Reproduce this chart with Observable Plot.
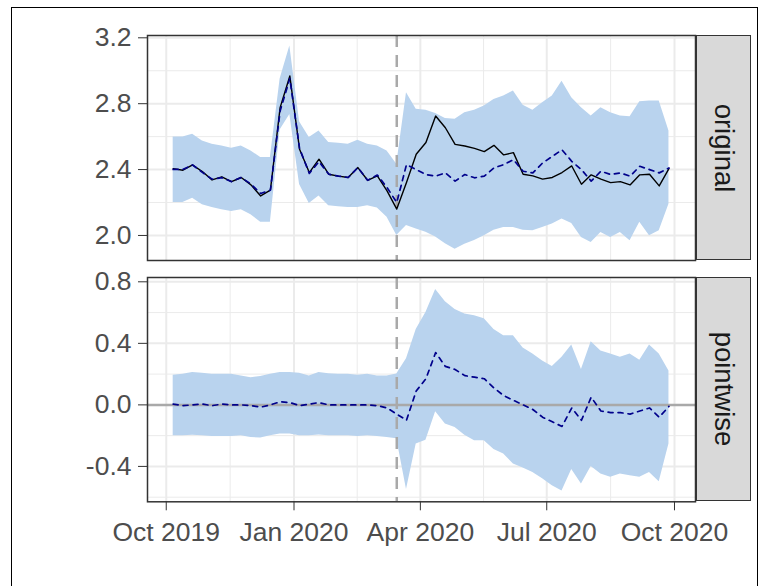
<!DOCTYPE html>
<html><head><meta charset="utf-8">
<script src="https://cdn.jsdelivr.net/npm/d3@7"></script>
<script src="https://cdn.jsdelivr.net/npm/@observablehq/plot@0.6"></script>
<style>
body{margin:0;background:#fff;}
#wrap{position:relative;width:765px;height:586px;overflow:hidden;background:#fff;font-family:"Liberation Sans",Arial,sans-serif;}
#border{position:absolute;left:11px;top:7px;width:747px;height:640px;border:1.5px solid #000;box-sizing:border-box;}
.plot{position:absolute;left:0;}
.strip{position:absolute;left:696px;width:55px;background:#d9d9d9;border:1.5px solid #333;box-sizing:border-box;}
.strip span{position:absolute;left:50%;top:50%;transform:translate(-50%,-50%) rotate(90deg);font-size:27.5px;color:#1a1a1a;white-space:nowrap;}
</style></head>
<body><div id="wrap"><div id="border"></div>
<div id="top" class="plot" style="top:0"></div>
<div id="bot" class="plot" style="top:270px"></div>
</div>
<script>
// ---- data ----
const dates = ["2019-10-06","2019-10-13","2019-10-20","2019-10-27","2019-11-03","2019-11-10","2019-11-17","2019-11-24",
"2019-12-01","2019-12-08","2019-12-15","2019-12-22","2019-12-29","2020-01-05","2020-01-12","2020-01-19","2020-01-26",
"2020-02-02","2020-02-09","2020-02-16","2020-02-23","2020-03-01","2020-03-08","2020-03-15","2020-03-22","2020-03-29",
"2020-04-05","2020-04-12","2020-04-19","2020-04-26","2020-05-03","2020-05-10","2020-05-17","2020-05-24","2020-05-31",
"2020-06-07","2020-06-14","2020-06-21","2020-06-28","2020-07-05","2020-07-12","2020-07-19","2020-07-26","2020-08-02",
"2020-08-09","2020-08-16","2020-08-23","2020-08-30","2020-09-06","2020-09-13","2020-09-20","2020-09-27"];
const actual = [2.406,2.396,2.428,2.388,2.337,2.356,2.327,2.352,2.307,2.24,2.275,2.776,2.968,2.523,2.382,2.463,2.372,2.36,
2.352,2.412,2.335,2.362,2.271,2.16,2.322,2.493,2.564,2.725,2.654,2.553,2.543,2.529,2.509,2.547,2.489,2.503,2.372,2.362,
2.342,2.352,2.382,2.422,2.311,2.368,2.342,2.321,2.327,2.307,2.368,2.372,2.301,2.406];
const predicted = [2.401,2.401,2.428,2.383,2.342,2.351,2.327,2.352,2.312,2.255,2.275,2.756,2.953,2.528,2.377,2.448,2.372,
2.36,2.352,2.412,2.335,2.367,2.291,2.20,2.43,2.40,2.37,2.36,2.38,2.33,2.37,2.35,2.36,2.41,2.43,2.46,2.39,2.38,2.44,2.48,
2.52,2.45,2.40,2.33,2.39,2.37,2.38,2.36,2.42,2.40,2.38,2.41];
const predUpper = [2.598,2.598,2.614,2.574,2.554,2.543,2.529,2.543,2.513,2.473,2.473,2.95,3.15,2.69,2.594,2.634,2.564,2.56,
2.554,2.578,2.554,2.543,2.513,2.432,2.867,2.766,2.76,2.74,2.71,2.705,2.745,2.76,2.786,2.826,2.846,2.877,2.79,2.76,2.806,
2.846,2.937,2.836,2.776,2.725,2.776,2.745,2.725,2.72,2.812,2.816,2.816,2.634];
const predLower = [2.2,2.2,2.226,2.186,2.17,2.156,2.145,2.156,2.125,2.08,2.08,2.64,2.735,2.31,2.194,2.24,2.18,2.175,2.17,
2.17,2.18,2.166,2.11,2.0,2.06,2.04,2.02,1.99,1.95,1.917,1.947,1.97,1.998,2.032,2.048,2.048,2.032,2.028,2.048,2.07,2.1,
2.073,1.988,1.958,2.018,1.988,2.018,1.968,2.08,1.998,2.028,2.19];
const pointwise = [0.005,-0.005,0,0.005,-0.005,0.005,0,0,-0.005,-0.015,0,0.02,0.015,-0.005,0.005,0.015,0,0,0,0,0,-0.005,
-0.02,-0.06,-0.10,0.09,0.17,0.34,0.25,0.23,0.19,0.18,0.17,0.11,0.06,0.03,0.00,-0.03,-0.08,-0.11,-0.14,-0.02,-0.10,0.05,
-0.04,-0.05,-0.05,-0.06,-0.04,-0.02,-0.08,-0.01];
const pointUpper = [0.192,0.199,0.21,0.205,0.199,0.199,0.199,0.188,0.177,0.184,0.199,0.21,0.21,0.205,0.188,0.21,0.203,
0.199,0.199,0.192,0.199,0.188,0.188,0.2,0.30,0.49,0.60,0.75,0.67,0.62,0.59,0.58,0.56,0.49,0.45,0.45,0.37,0.33,0.285,
0.25,0.31,0.39,0.23,0.41,0.35,0.33,0.31,0.33,0.29,0.39,0.33,0.22];
const pointLower = [-0.201,-0.201,-0.197,-0.201,-0.205,-0.205,-0.205,-0.201,-0.212,-0.216,-0.201,-0.19,-0.19,-0.201,
-0.201,-0.195,-0.201,-0.201,-0.201,-0.205,-0.201,-0.205,-0.212,-0.22,-0.55,-0.255,-0.23,-0.045,-0.125,-0.147,-0.197,
-0.233,-0.233,-0.29,-0.32,-0.385,-0.41,-0.44,-0.48,-0.525,-0.56,-0.42,-0.515,-0.40,-0.45,-0.47,-0.45,-0.46,-0.47,
-0.44,-0.50,-0.255];
const interventionDate = "2020-03-15";
const panelNames = ["original", "pointwise"];
const xTickDates = ["2019-10-01","2020-01-01","2020-04-01","2020-07-01","2020-10-01"];
const xMinorDates = ["2019-11-16","2020-02-15T12:00Z","2020-05-16T12:00Z","2020-08-16"];
const yTicksOriginal = [2.0, 2.4, 2.8, 3.2];
const yMinorOriginal = [2.2, 2.6, 3.0];
const yTicksPointwise = [-0.4, 0.0, 0.4, 0.8];
const yMinorPointwise = [-0.6, -0.2, 0.2, 0.6];

// ---- build ----
const rows = dates.map((d, i) => ({
  date: new Date(d), actual: actual[i], pred: predicted[i], lo: predLower[i], hi: predUpper[i],
  pw: pointwise[i], pwLo: pointLower[i], pwHi: pointUpper[i]
}));
const xDomain = [new Date(Date.UTC(2019, 8, 17, 12)), new Date(Date.UTC(2020, 9, 16, 3))];
const xMaj = xTickDates.map(d => new Date(d));
const xMin = xMinorDates.map(d => new Date(d));
const vline = [new Date(interventionDate)];
const GRID = "#ebebeb", BAND = "#b9d3ee", GREY = "#a9a9a9";
const FS = 26.5;
const fmtY = d => d.toFixed(1);
const fmtX = d3.utcFormat("%b %Y");
const common = {
  width: 765, marginLeft: 147, marginRight: 70,
  style: {fontFamily: "'Liberation Sans', Arial, sans-serif", background: "transparent", color: "#4d4d4d", overflow: "visible"}
};
const grids = (minY, majY) => [
  Plot.ruleY(minY, {stroke: GRID, strokeWidth: 1}),
  Plot.ruleY(majY, {stroke: GRID, strokeWidth: 2}),
  Plot.ruleX(xMin, {stroke: GRID, strokeWidth: 1}),
  Plot.ruleX(xMaj, {stroke: GRID, strokeWidth: 2})
];

const topPlot = Plot.plot({
  ...common, height: 270, marginTop: 35, marginBottom: 10,
  x: {type: "utc", domain: xDomain, axis: null},
  y: {domain: [1.848, 3.214], axis: null},
  marks: [
    ...grids(yMinorOriginal, yTicksOriginal),
    Plot.areaY(rows, {x: "date", y1: "lo", y2: "hi", fill: BAND}),
    Plot.ruleX(vline, {stroke: GREY, strokeWidth: 2.5, strokeDasharray: "12,8"}),
    Plot.line(rows, {x: "date", y: "actual", stroke: "#000", strokeWidth: 1.4}),
    Plot.line(rows, {x: "date", y: "pred", stroke: "#00008b", strokeWidth: 1.7, strokeDasharray: "5,5"}),
    Plot.frame({stroke: "#333", strokeWidth: 1.5}),
    Plot.axisY({ticks: yTicksOriginal, tickFormat: fmtY, tickSize: 9, tickPadding: 7, fontSize: FS, stroke: "#333", fill: "#4d4d4d", label: null})
  ]
});
document.getElementById("top").append(topPlot);

const botPlot = Plot.plot({
  ...common, height: 316, marginTop: 7, marginBottom: 84.7,
  x: {type: "utc", domain: xDomain},
  y: {domain: [-0.63, 0.828]},
  marks: [
    ...grids(yMinorPointwise, yTicksPointwise),
    Plot.areaY(rows, {x: "date", y1: "pwLo", y2: "pwHi", fill: BAND}),
    Plot.ruleY([0], {stroke: GREY, strokeWidth: 2.5}),
    Plot.ruleX(vline, {stroke: GREY, strokeWidth: 2.5, strokeDasharray: "12,8"}),
    Plot.line(rows, {x: "date", y: "pw", stroke: "#00008b", strokeWidth: 1.7, strokeDasharray: "5,5"}),
    Plot.frame({stroke: "#333", strokeWidth: 1.5}),
    Plot.axisY({ticks: yTicksPointwise, tickFormat: fmtY, tickSize: 9, tickPadding: 7, fontSize: FS, stroke: "#333", fill: "#4d4d4d", label: null}),
    Plot.axisX({ticks: xMaj, tickFormat: fmtX, tickSize: 9, tickPadding: 11, fontSize: FS, stroke: "#333", fill: "#4d4d4d", label: null})
  ]
});
document.getElementById("bot").append(botPlot);

// strips
const wrap = document.getElementById("wrap");
[[35, 225], [277, 224.3]].forEach(([t, h], i) => {
  const s = document.createElement("div");
  s.className = "strip";
  s.style.top = t + "px"; s.style.height = h + "px";
  const sp = document.createElement("span");
  sp.textContent = panelNames[i];
  s.append(sp);
  wrap.append(s);
});
</script></body></html>
